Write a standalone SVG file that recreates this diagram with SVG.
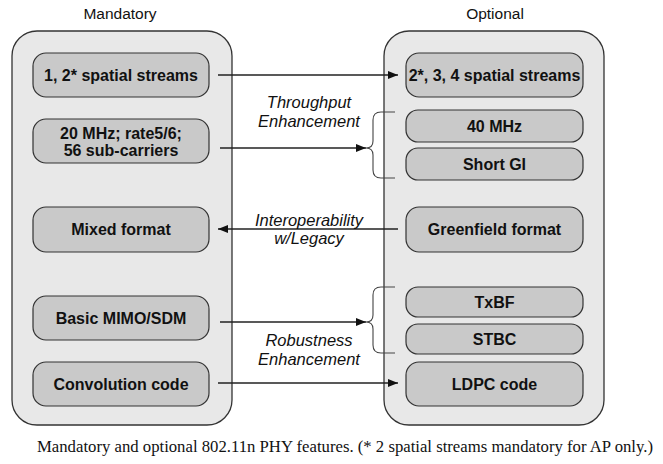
<svg xmlns="http://www.w3.org/2000/svg" width="663" height="464" viewBox="0 0 663 464">
<style>
.panel{fill:#e8e8e8;stroke:#333;stroke-width:1.3}
.node rect{fill:#c9c9c9;stroke:#333;stroke-width:1.2}
.node text{font-family:"Liberation Sans",Arial,sans-serif;font-weight:bold;font-size:16px;fill:#111;text-anchor:middle}
.title{font-family:"Liberation Sans",Arial,sans-serif;font-size:15.5px;fill:#111;text-anchor:middle}
.lbl{font-family:"Liberation Sans",Arial,sans-serif;font-style:italic;font-size:16.5px;fill:#111;text-anchor:middle}
.conn{stroke:#222;stroke-width:1.3;fill:none}
.brace{stroke:#444;stroke-width:1.1;fill:none}
</style>
<defs>
<marker id="ah" viewBox="0 0 10 8" refX="10" refY="4" markerWidth="10" markerHeight="8" markerUnits="userSpaceOnUse" orient="auto">
<path d="M0,0 L10,4 L0,8 z" fill="#111"/>
</marker>
</defs>
<rect width="663" height="464" fill="#fff"/>
<text class="title" x="120" y="19">Mandatory</text>
<text class="title" x="495" y="19">Optional</text>
<rect id="mandatory" class="panel" x="12" y="31" width="220" height="394" rx="25"/>
<rect id="optional" class="panel" x="384" y="31" width="220" height="394" rx="25"/>
<g id="m1" class="node"><rect x="33" y="53" width="176" height="44" rx="13"/><text x="121" y="81">1, 2* spatial streams</text></g>
<g id="m2" class="node"><rect x="33" y="119" width="176" height="44" rx="13"/><text x="121" y="139">20 MHz; rate5/6;</text><text x="121" y="156">56 sub-carriers</text></g>
<g id="m3" class="node"><rect x="33" y="207" width="176" height="45" rx="13"/><text x="121" y="235">Mixed format</text></g>
<g id="m4" class="node"><rect x="33" y="296" width="176" height="44" rx="13"/><text x="121" y="324">Basic MIMO/SDM</text></g>
<g id="m5" class="node"><rect x="33" y="362" width="176" height="44" rx="13"/><text x="121" y="390">Convolution code</text></g>
<g id="o1" class="node"><rect x="406" y="53" width="177" height="44" rx="13"/><text x="494.5" y="81">2*, 3, 4 spatial streams</text></g>
<g id="o2" class="node"><rect x="406" y="110" width="177" height="32" rx="12"/><text x="494.5" y="132">40 MHz</text></g>
<g id="o3" class="node"><rect x="406" y="148" width="177" height="32" rx="12"/><text x="494.5" y="170">Short GI</text></g>
<g id="o4" class="node"><rect x="406" y="207" width="177" height="45" rx="13"/><text x="494.5" y="235">Greenfield format</text></g>
<g id="o5" class="node"><rect x="406" y="287" width="177" height="30" rx="12"/><text x="494.5" y="308">TxBF</text></g>
<g id="o6" class="node"><rect x="406" y="324" width="177" height="30" rx="12"/><text x="494.5" y="345">STBC</text></g>
<g id="o7" class="node"><rect x="406" y="362" width="177" height="44" rx="13"/><text x="494.5" y="390">LDPC code</text></g>
<g id="connectors">
<line class="conn" x1="218" y1="75" x2="398" y2="75" marker-end="url(#ah)"/>
<line class="conn" x1="220" y1="148" x2="366" y2="148" stroke="#555" marker-end="url(#ah)"/>
<path class="brace" d="M395,112 H381 Q373,112 373,120 V141 Q373,148 366,148 Q373,148 373,155 V170 Q373,178 381,178 H395"/>
<line class="conn" x1="398" y1="229" x2="218" y2="229" stroke="#777" marker-end="url(#ah)"/>
<line class="conn" x1="220" y1="322" x2="366" y2="322" marker-end="url(#ah)"/>
<path class="brace" d="M395,287 H381 Q373,287 373,295 V315 Q373,322 366,322 Q373,322 373,329 V345 Q373,353 381,353 H395"/>
<line class="conn" x1="218" y1="383" x2="398" y2="383" marker-end="url(#ah)"/>
</g>
<text class="lbl" x="309" y="108">Throughput</text>
<text class="lbl" x="309" y="127">Enhancement</text>
<text class="lbl" x="309" y="226">Interoperability</text>
<text class="lbl" x="309" y="244">w/Legacy</text>
<text class="lbl" x="309" y="346">Robustness</text>
<text class="lbl" x="309" y="365">Enhancement</text>
<text x="37" y="452" font-family="Liberation Serif,'Times New Roman',serif" font-size="16" textLength="616" lengthAdjust="spacingAndGlyphs" fill="#111">Mandatory and optional 802.11n PHY features. (* 2 spatial streams mandatory for AP only.)</text>
</svg>
